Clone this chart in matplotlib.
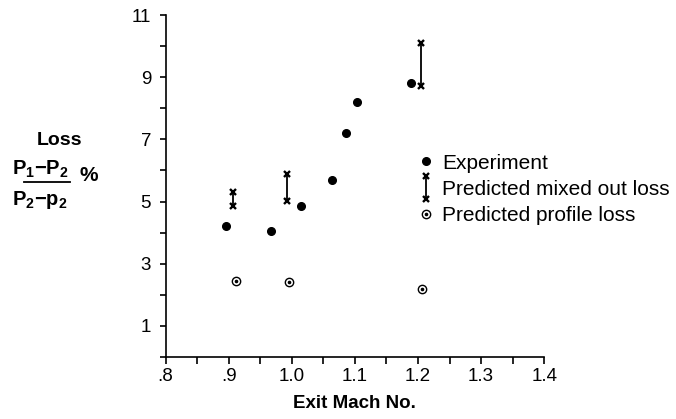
import matplotlib

matplotlib.use("Agg")
import matplotlib.pyplot as plt
from matplotlib.legend_handler import HandlerBase
from matplotlib.lines import Line2D

plt.rcParams["font.family"] = ["Liberation Sans", "DejaVu Sans"]
plt.rcParams["mathtext.fontset"] = "custom"
plt.rcParams["mathtext.rm"] = "Liberation Sans"
plt.rcParams["mathtext.bf"] = "Liberation Sans:bold"

# ---- data --------------------------------------------------------------
exp_mach = [0.896, 0.967, 1.014, 1.063, 1.086, 1.103, 1.189]
exp_loss = [4.20, 4.06, 4.85, 5.71, 7.20, 8.19, 8.81]

mixed_mach = [0.907, 0.993, 1.204]
mixed_lo = [4.85, 5.02, 8.73]
mixed_hi = [5.31, 5.88, 10.09]

profile_mach = [0.911, 0.995, 1.207]
profile_loss = [2.44, 2.41, 2.19]

xticks = [0.8, 0.9, 1.0, 1.1, 1.2, 1.3, 1.4]
xticklabels = [".8", ".9", "1.0", "1.1", "1.2", "1.3", "1.4"]
xminor = [0.85, 0.95, 1.05, 1.15, 1.25, 1.35]
yticks = [1, 3, 5, 7, 9, 11]
yminor = [0, 2, 4, 6, 8, 10]


class MixedHandler(HandlerBase):
    """I-beam key: vertical bar with an x at each end."""

    def create_artists(self, legend, orig, xd, yd, width, height, fontsize, trans):
        cx = xd + width / 2
        lo, hi = yd - height * 0.3, yd + height * 1.3
        bar = Line2D([cx, cx], [lo, hi], color="black", lw=1.3, transform=trans)
        ends = Line2D([cx, cx], [lo, hi], ls="none", marker="x", ms=4.5, mew=1.7,
                      color="black", transform=trans)
        return [bar, ends]


class ProfileHandler(HandlerBase):
    """Open circle with a centre dot."""

    def create_artists(self, legend, orig, xd, yd, width, height, fontsize, trans):
        cx, cy = xd + width / 2, yd + height / 2
        ring = Line2D([cx], [cy], ls="none", marker="o", ms=6, mfc="white",
                      mec="black", mew=1.0, transform=trans)
        dot = Line2D([cx], [cy], ls="none", marker="o", ms=1.6, color="black",
                     transform=trans)
        return [ring, dot]


fig = plt.figure(figsize=(6.76, 4.19), dpi=100)
ax = fig.add_axes([0.245, 0.148, 0.560, 0.816])

ax.plot(exp_mach, exp_loss, "o", ms=5.5, color="black", ls="none")
ax.vlines(mixed_mach, mixed_lo, mixed_hi, color="black", lw=1.3)
ax.plot(mixed_mach + mixed_mach, mixed_lo + mixed_hi, "x", ms=5, mew=1.7,
        color="black", ls="none")
ax.plot(profile_mach, profile_loss, "o", ms=6, mfc="white", mec="black", mew=1.0,
        ls="none")
ax.plot(profile_mach, profile_loss, "o", ms=1.6, color="black", ls="none")

ax.set_xlim(0.8, 1.4)
ax.set_ylim(0, 11)
ax.set_xticks(xticks)
ax.set_xticklabels(xticklabels)
ax.set_xticks(xminor, minor=True)
ax.set_yticks(yticks)
ax.set_yticks(yminor, minor=True)
for s in ("top", "right"):
    ax.spines[s].set_visible(False)
for s in ("left", "bottom"):
    ax.spines[s].set_linewidth(1.2)
ax.tick_params(axis="both", which="both", direction="out", width=1.2, labelsize=13.5)
ax.tick_params(axis="x", which="both", length=5, pad=3)
ax.tick_params(axis="y", which="both", length=4.5, pad=6)

ax.set_xlabel("Exit Mach No.", fontsize=13.5, fontweight="bold", labelpad=7)

# y label: "Loss" over the pressure-ratio fraction
fig.text(60 / 676, 1 - 140 / 419, "Loss", fontsize=14, fontweight="bold",
         ha="center", va="center")
fig.text(12 / 676, 1 - 169 / 419, r"$\mathbf{P_1{-}P_2}$", fontsize=14.5,
         ha="left", va="center")
fig.text(80 / 676, 1 - 175 / 419, "%", fontsize=15, fontweight="bold",
         ha="left", va="center")
fig.add_artist(Line2D([24 / 676, 70 / 676], [1 - 182 / 419, 1 - 182 / 419],
                      color="black", lw=1.3))
fig.text(12 / 676, 1 - 200 / 419, r"$\mathbf{P_2{-}p_2}$", fontsize=14.5,
         ha="left", va="center")

# legend
h_exp = Line2D([], [], ls="none", marker="o", ms=5.5, color="black")
h_mix = object()
h_pro = object()
leg = ax.legend([h_exp, h_mix, h_pro],
                ["Experiment", "Predicted mixed out loss", "Predicted profile loss"],
                handler_map={h_mix: MixedHandler(), h_pro: ProfileHandler()},
                loc="center left", bbox_to_anchor=(420 / 676, 1 - 189.5 / 419),
                bbox_transform=fig.transFigure, frameon=False, fontsize=15,
                handlelength=0.55, handletextpad=0.5, labelspacing=0.35,
                borderpad=0, borderaxespad=0)

fig.savefig("out.png", dpi=100)
